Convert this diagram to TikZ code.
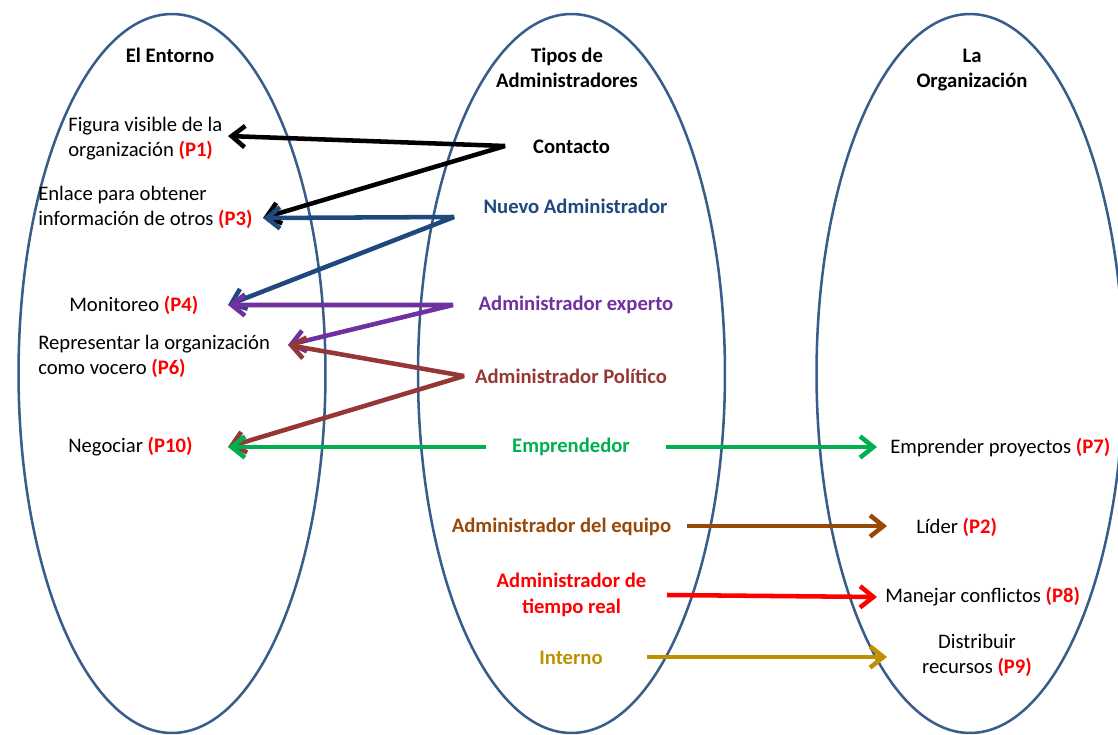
\documentclass[tikz,border=0pt]{standalone}
\usepackage{fontspec}
\setmainfont{Carlito}
\usetikzlibrary{arrows.meta}
\definecolor{ovalblue}{RGB}{56,93,138}
\definecolor{navy}{RGB}{31,73,125}
\definecolor{violet2}{RGB}{112,48,160}
\definecolor{maroon2}{RGB}{149,55,53}
\definecolor{green2}{RGB}{0,176,80}
\definecolor{brown2}{RGB}{152,72,7}
\definecolor{red2}{RGB}{255,0,0}
\definecolor{gold2}{RGB}{191,144,0}
\newcommand\pref[1]{\textcolor{red2}{\bfseries(#1)}}
\tikzset{
  oval/.style={draw=ovalblue, line width=1.9pt},
  ttl/.style={font=\fontsize{15.5}{19}\selectfont\bfseries, align=center, inner sep=0pt},
  item/.style={align=left, anchor=west, inner sep=0pt},
  itemc/.style={align=center, inner sep=0pt},
  kind/.style={font=\fontsize{15.5}{19}\selectfont\bfseries, align=center, inner sep=0pt},
  barb/.tip={Straight Barb[length=10pt,width=16pt]},
  link/.style={line width=3.4pt, -barb},
  twin/.style={line width=3.4pt, barb-barb, line join=bevel},
}
\begin{document}
\begin{tikzpicture}[x=0.75pt,y=-0.75pt, font=\fontsize{15.5}{19}\selectfont]
\useasboundingbox (0,0) rectangle (1118,735);

% the three groups
\draw[oval] (172,373.5) ellipse [x radius=115.1pt, y radius=269.6pt];
\draw[oval] (571.5,373.5) ellipse [x radius=115.1pt, y radius=269.6pt];
\draw[oval] (970,373.5) ellipse [x radius=115.1pt, y radius=269.6pt];

% headings
\node[ttl] (hent) at (170,55) {El Entorno};
\node[ttl] (htip) at (567,67.5) {Tipos de\\Administradores};
\node[ttl] (horg) at (972,70) {La\\Organización};

% roles towards the environment
\node[item] (fig) at (68,138.5) {Figura visible de la\\organización \pref{P1}};
\node[item] (enl) at (38,207.5) {Enlace para obtener\\información de otros \pref{P3}};
\node[item] (mon) at (69,305) {Monitoreo \pref{P4}};
\node[item] (rep) at (38,356.5) {Representar la organización\\como vocero \pref{P6}};
\node[item] (neg) at (68,447) {Negociar \pref{P10}};

% types of managers
\node[kind] (con) at (571.5,147) {Contacto};
\node[kind, text=navy] (nue) at (575.5,206) {Nuevo Administrador};
\node[kind, text=violet2] (exp) at (576,305) {Administrador experto};
\node[kind, text=maroon2] (pol) at (571,376) {Administrador Político};
\node[kind, text=green2] (emp) at (571,447) {Emprendedor};
\node[kind, text=brown2] (equ) at (561.5,527) {Administrador del equipo};
\node[kind, text=red2] (trl) at (571.5,595) {Administrador de\\tiempo real};
\node[kind, text=gold2] (intn) at (571,658) {Interno};

% roles inside the organisation
\node[item] (p7) at (890,447) {Emprender proyectos \pref{P7}};
\node[item] (p2) at (916,527) {Líder \pref{P2}};
\node[item] (p8) at (885,597) {Manejar conflictos \pref{P8}};
\node[itemc] (p9) at (977,655.5) {Distribuir\\recursos \pref{P9}};

% arrow tips beside the roles
\coordinate (t1) at (228,136);
\coordinate (t3) at (263,218);
\coordinate (t4) at (228,305);
\coordinate (t6) at (288,345);
\coordinate (t10) at (228,447);
\coordinate (t7) at (877,447);
\coordinate (t2) at (887,526);
\coordinate (t8) at (877,597);
\coordinate (t9) at (887,657);

% bends and starts beside the manager types
\coordinate (vc) at (505,146);
\coordinate (vn) at (454,217);
\coordinate (ve) at (453,305);
\coordinate (vp) at (464,376);
\coordinate (gl) at (486,447);
\coordinate (gr) at (666,447);
\coordinate (sb) at (687,526);
\coordinate (sr) at (667,595);
\coordinate (sg) at (647,657);

\draw[twin, black] (t1) -- (vc) -- (t3);
\draw[twin, navy] (t3) -- (vn) -- (t4);
\draw[twin, violet2] (t4) -- (ve) -- (t6);
\draw[twin, maroon2] (t6) -- (vp) -- (t10);
\draw[link, green2] (gl) -- (t10);
\draw[link, green2] (gr) -- (t7);
\draw[link, brown2] (sb) -- (t2);
\draw[link, red2] (sr) -- (t8);
\draw[link, gold2] (sg) -- (t9);
\end{tikzpicture}
\end{document}
